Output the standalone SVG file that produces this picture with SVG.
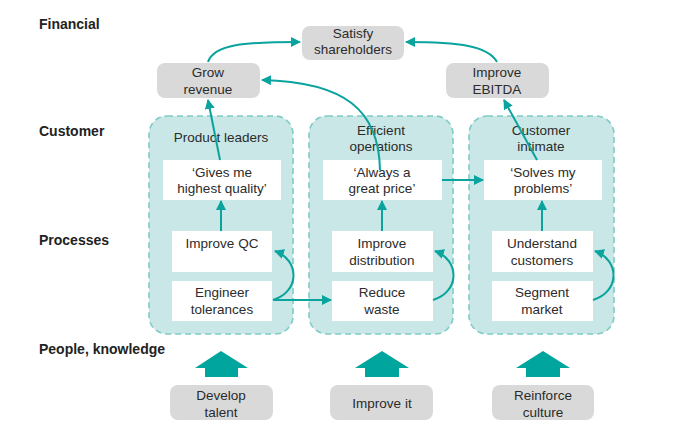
<svg xmlns="http://www.w3.org/2000/svg" width="700" height="426" viewBox="0 0 700 426">
<defs>
<style>
text{font-family:"Liberation Sans",Arial,sans-serif;font-size:13.5px;fill:#2b2b2b;text-anchor:middle}
.lbl{font-weight:bold;text-anchor:start;font-size:14px;fill:#222}
.gray{fill:#d9d9d9}
.cont{fill:#c9e7e6;stroke:#7fcbc6;stroke-width:1.6;stroke-dasharray:6 4}
.wb{fill:#ffffff}
.con{fill:none;stroke:#0aa39d;stroke-width:2}
.big{fill:#00a59d}
</style>
<marker id="ah" viewBox="0 0 10 10" refX="9" refY="5" markerWidth="5" markerHeight="5" orient="auto" markerUnits="strokeWidth">
<path d="M0,0 L10,5 L0,10 z" fill="#0aa39d"/>
</marker>
</defs>
<rect width="700" height="426" fill="#ffffff"/>
<g id="labels">
<text class="lbl" x="39" y="29">Financial</text>
<text class="lbl" x="39" y="136">Customer</text>
<text class="lbl" x="39" y="245">Processes</text>
<text class="lbl" x="39" y="354">People, knowledge</text>
</g>
<g id="containers">
<rect class="cont" x="149" y="116" width="144" height="218" rx="18"/>
<rect class="cont" x="309" y="116" width="144" height="218" rx="18"/>
<rect class="cont" x="469" y="116" width="145" height="218" rx="18"/>
</g>
<g id="satisfy"><rect class="gray" x="302" y="26" width="102" height="34" rx="8"/><text x="353" y="38">Satisfy</text><text x="353" y="54">shareholders</text></g>
<g id="grow"><rect class="gray" x="157" y="63" width="103" height="35" rx="8"/><text x="208" y="77">Grow</text><text x="208" y="94">revenue</text></g>
<g id="ebitda"><rect class="gray" x="446" y="63" width="103" height="35" rx="8"/><text x="497" y="77">Improve</text><text x="497" y="94">EBITDA</text></g>
<g id="productleaders"><text x="221" y="142">Product leaders</text></g>
<g id="efficient"><text x="381" y="135">Efficient</text><text x="381" y="151">operations</text></g>
<g id="intimate"><text x="541" y="135">Customer</text><text x="541" y="151">intimate</text></g>
<g id="quality"><rect class="wb" x="163" y="160" width="118" height="40"/><text x="222" y="177">‘Gives me</text><text x="222" y="193">highest quality’</text></g>
<g id="price"><rect class="wb" x="323" y="160" width="119" height="40"/><text x="382" y="177">‘Always a</text><text x="382" y="193">great price’</text></g>
<g id="solves"><rect class="wb" x="484" y="160" width="118" height="40"/><text x="543" y="177">‘Solves my</text><text x="543" y="193">problems’</text></g>
<g id="qc"><rect class="wb" x="172" y="231" width="100" height="41"/><text x="222" y="248">Improve QC</text></g>
<g id="distribution"><rect class="wb" x="332" y="231" width="101" height="41"/><text x="382" y="248">Improve</text><text x="382" y="265">distribution</text></g>
<g id="understand"><rect class="wb" x="492" y="231" width="101" height="41"/><text x="542" y="248">Understand</text><text x="542" y="265">customers</text></g>
<g id="engineer"><rect class="wb" x="172" y="281" width="100" height="40"/><text x="222" y="297">Engineer</text><text x="222" y="314">tolerances</text></g>
<g id="waste"><rect class="wb" x="332" y="281" width="101" height="40"/><text x="382" y="297">Reduce</text><text x="382" y="314">waste</text></g>
<g id="segment"><rect class="wb" x="492" y="281" width="101" height="40"/><text x="542" y="297">Segment</text><text x="542" y="314">market</text></g>
<g id="bigarrows">
<path class="big" d="M221,351 L248,368 L238,368 L238,377 L205,377 L205,368 L195,368 Z"/>
<path class="big" d="M382,351 L409,368 L399,368 L399,377 L365,377 L365,368 L355,368 Z"/>
<path class="big" d="M543,351 L570,368 L560,368 L560,377 L526,377 L526,368 L516,368 Z"/>
</g>
<g id="talent"><rect class="gray" x="170" y="385" width="103" height="35" rx="8"/><text x="221" y="400">Develop</text><text x="221" y="417">talent</text></g>
<g id="improveit"><rect class="gray" x="330" y="385" width="103" height="35" rx="8"/><text x="382" y="408">Improve it</text></g>
<g id="culture"><rect class="gray" x="492" y="385" width="102" height="35" rx="8"/><text x="543" y="400">Reinforce</text><text x="543" y="417">culture</text></g>
<g id="connectors">
<path class="con" marker-end="url(#ah)" d="M208,62 C214,44 245,42 300,42"/>
<path class="con" marker-end="url(#ah)" d="M497,62 C488,46 460,42 406,42"/>
<path class="con" marker-end="url(#ah)" d="M380,170 C379,110 345,82 262,80"/>
<path class="con" marker-end="url(#ah)" d="M220,160 L208,100"/>
<path class="con" marker-end="url(#ah)" d="M537,160 L504,100"/>
<path class="con" marker-end="url(#ah)" d="M221,231 L221,201"/>
<path class="con" marker-end="url(#ah)" d="M382,231 L382,201"/>
<path class="con" marker-end="url(#ah)" d="M542,231 L542,201"/>
<path class="con" marker-end="url(#ah)" d="M273,300 C300,292 300,260 275,251"/>
<path class="con" marker-end="url(#ah)" d="M433,300 C460,292 460,260 435,251"/>
<path class="con" marker-end="url(#ah)" d="M593,300 C620,292 620,260 595,251"/>
<path class="con" marker-end="url(#ah)" d="M273,300 L331,300"/>
<path class="con" marker-end="url(#ah)" d="M442,180 L483,180"/>
</g>
</svg>
